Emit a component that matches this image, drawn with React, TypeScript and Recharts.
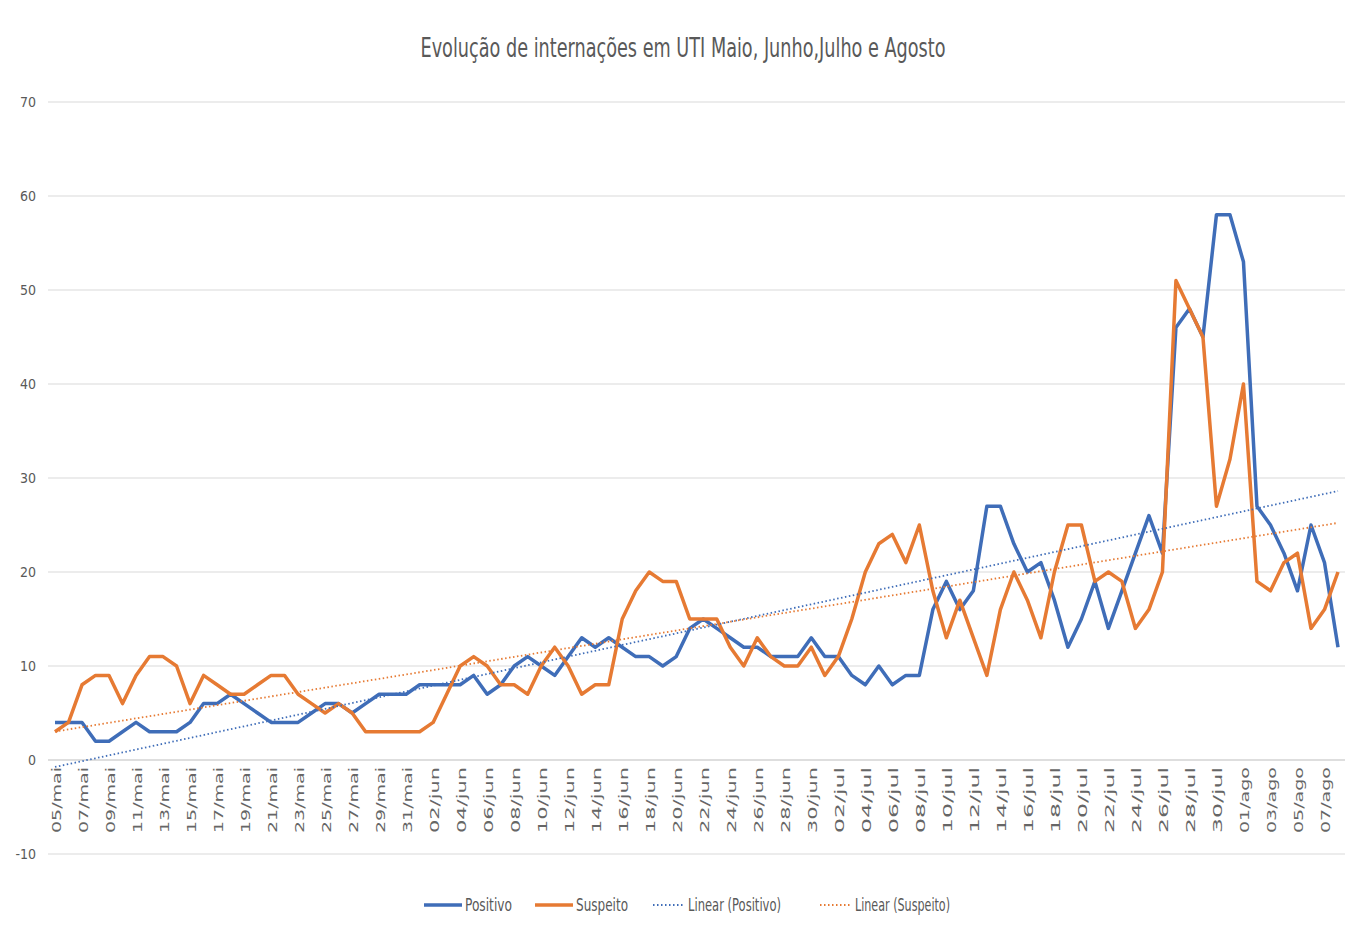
import React from 'react';
import { LineChart, Line, XAxis, YAxis, CartesianGrid, ReferenceLine } from 'recharts';

const dates = [
  '05/mai', '06/mai', '07/mai', '08/mai', '09/mai', '10/mai', '11/mai', '12/mai', '13/mai', '14/mai',
  '15/mai', '16/mai', '17/mai', '18/mai', '19/mai', '20/mai', '21/mai', '22/mai', '23/mai', '24/mai',
  '25/mai', '26/mai', '27/mai', '28/mai', '29/mai', '30/mai', '31/mai', '01/jun', '02/jun', '03/jun',
  '04/jun', '05/jun', '06/jun', '07/jun', '08/jun', '09/jun', '10/jun', '11/jun', '12/jun', '13/jun',
  '14/jun', '15/jun', '16/jun', '17/jun', '18/jun', '19/jun', '20/jun', '21/jun', '22/jun', '23/jun',
  '24/jun', '25/jun', '26/jun', '27/jun', '28/jun', '29/jun', '30/jun', '01/jul', '02/jul', '03/jul',
  '04/jul', '05/jul', '06/jul', '07/jul', '08/jul', '09/jul', '10/jul', '11/jul', '12/jul', '13/jul',
  '14/jul', '15/jul', '16/jul', '17/jul', '18/jul', '19/jul', '20/jul', '21/jul', '22/jul', '23/jul',
  '24/jul', '25/jul', '26/jul', '27/jul', '28/jul', '29/jul', '30/jul', '31/jul', '01/ago', '02/ago',
  '03/ago', '04/ago', '05/ago', '06/ago', '07/ago', '08/ago',
];

const positivo = [
  4, 4, 4, 2, 2, 3, 4, 3, 3, 3,
  4, 6, 6, 7, 6, 5, 4, 4, 4, 5,
  6, 6, 5, 6, 7, 7, 7, 8, 8, 8,
  8, 9, 7, 8, 10, 11, 10, 9, 11, 13,
  12, 13, 12, 11, 11, 10, 11, 14, 15, 14,
  13, 12, 12, 11, 11, 11, 13, 11, 11, 9,
  8, 10, 8, 9, 9, 16, 19, 16, 18, 27,
  27, 23, 20, 21, 17, 12, 15, 19, 14, 18,
  22, 26, 22, 46, 48, 45, 58, 58, 53, 27,
  25, 22, 18, 25, 21, 12,
];

const suspeito = [
  3, 4, 8, 9, 9, 6, 9, 11, 11, 10,
  6, 9, 8, 7, 7, 8, 9, 9, 7, 6,
  5, 6, 5, 3, 3, 3, 3, 3, 4, 7,
  10, 11, 10, 8, 8, 7, 10, 12, 10, 7,
  8, 8, 15, 18, 20, 19, 19, 15, 15, 15,
  12, 10, 13, 11, 10, 10, 12, 9, 11, 15,
  20, 23, 24, 21, 25, 18, 13, 17, 13, 9,
  16, 20, 17, 13, 20, 25, 25, 19, 20, 19,
  14, 16, 20, 51, 48, 45, 27, 32, 40, 19,
  18, 21, 22, 14, 16, 20,
];

const yTicks = [-10, 0, 10, 20, 30, 40, 50, 60, 70];

const BLUE = '#3F6DB8';
const ORANGE = '#E67A33';
const TEXT = '#595959';
const FONT = "'Liberation Sans Narrow', 'DejaVu Sans Condensed', 'Liberation Sans', sans-serif";

// least squares line, same as Excel's linear trendline
function linearTrend(values: number[]) {
  const n = values.length;
  let sx = 0, sy = 0, sxy = 0, sxx = 0;
  values.forEach((v, i) => {
    const x = i + 1;
    sx += x; sy += v; sxy += x * v; sxx += x * x;
  });
  const slope = (n * sxy - sx * sy) / (n * sxx - sx * sx);
  const intercept = (sy - slope * sx) / n;
  return values.map((_, i) => intercept + slope * (i + 1));
}

const trendP = linearTrend(positivo);
const trendS = linearTrend(suspeito);

const data = dates.map((d, i) => ({
  date: d,
  positivo: positivo[i],
  suspeito: suspeito[i],
  trendP: trendP[i],
  trendS: trendS[i],
}));

const W = 1366;
const H = 940;
const TOP = 102;
const BOTTOM = 66;
const XAXIS_H = 20;
const plotH = H - TOP - BOTTOM - XAXIS_H;
const zeroY = TOP + plotH * (70 / 80);

const XTick = (props: any) => {
  const { x, payload } = props;
  return (
    <g transform={`translate(${x + 1},${zeroY + 7})`}>
      <text
        transform="rotate(-90)"
        textAnchor="end"
        dominantBaseline="central"
        fill="#666"
        fontSize={13}
        fontFamily={FONT}
        textLength={66}
        lengthAdjust="spacingAndGlyphs"
      >
        {payload.value}
      </text>
    </g>
  );
};

const legendItems = [
  { label: 'Positivo', color: BLUE, dotted: false, x: 424, tw: 47 },
  { label: 'Suspeito', color: ORANGE, dotted: false, x: 535, tw: 52 },
  { label: 'Linear (Positivo)', color: BLUE, dotted: true, x: 653, tw: 93 },
  { label: 'Linear (Suspeito)', color: ORANGE, dotted: true, x: 820, tw: 95 },
];

export default function App() {
  return (
    <div style={{ position: 'absolute', left: 0, top: 0, width: W, height: H, background: '#fff' }}>
      <LineChart width={W} height={H} data={data} margin={{ top: TOP, right: 21, left: 0, bottom: BOTTOM }}>
        <CartesianGrid vertical={false} stroke="#d9d9d9" />
        <XAxis
          dataKey="date"
          height={XAXIS_H}
          interval={1}
          axisLine={false}
          tickLine={false}
          tick={<XTick />}
          padding={{ left: 7, right: 7 }}
        />
        <YAxis
          width={48}
          domain={[-10, 70]}
          ticks={yTicks}
          axisLine={false}
          tickLine={false}
          tickMargin={6}
          tick={{ fill: TEXT, fontSize: 14, fontFamily: FONT }}
        />
        <ReferenceLine y={0} stroke="#d0d0d0" />
        <Line dataKey="positivo" stroke={BLUE} strokeWidth={3.5} dot={false} activeDot={false} isAnimationActive={false} strokeLinejoin="round" />
        <Line dataKey="suspeito" stroke={ORANGE} strokeWidth={3.5} dot={false} activeDot={false} isAnimationActive={false} strokeLinejoin="round" />
        <Line dataKey="trendP" stroke={BLUE} strokeWidth={1.8} strokeDasharray="1.5 2.5" dot={false} activeDot={false} isAnimationActive={false} />
        <Line dataKey="trendS" stroke={ORANGE} strokeWidth={1.8} strokeDasharray="1.5 2.5" dot={false} activeDot={false} isAnimationActive={false} />
      </LineChart>

      <svg width={W} height={H} style={{ position: 'absolute', left: 0, top: 0, pointerEvents: 'none' }}>
        <text
          x={683}
          y={57}
          textAnchor="middle"
          fill={TEXT}
          fontSize={26}
          fontFamily={FONT}
          textLength={525}
          lengthAdjust="spacingAndGlyphs"
        >
          Evolução de internações em UTI Maio, Junho,Julho e Agosto
        </text>
        {legendItems.map((it) => (
          <g key={it.label}>
            <line
              x1={it.x}
              x2={it.x + (it.dotted ? 32 : 38)}
              y1={905}
              y2={905}
              stroke={it.color}
              strokeWidth={it.dotted ? 1.8 : 3.5}
              strokeDasharray={it.dotted ? '1.5 2.5' : undefined}
            />
            <text
              x={it.x + (it.dotted ? 35 : 41)}
              y={911}
              fill={TEXT}
              fontSize={17}
              fontFamily={FONT}
              textLength={it.tw}
              lengthAdjust="spacingAndGlyphs"
            >
              {it.label}
            </text>
          </g>
        ))}
      </svg>
    </div>
  );
}
